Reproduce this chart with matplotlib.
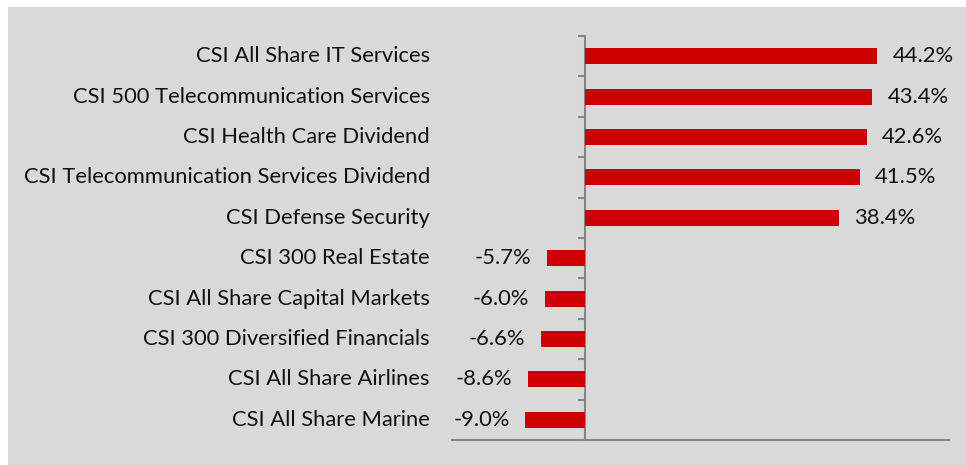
import matplotlib.pyplot as plt
from matplotlib.patches import Rectangle
import matplotlib.transforms as mtransforms

# Data (top to bottom as shown)
categories = [
    'CSI All Share IT Services',
    'CSI 500 Telecommunication Services',
    'CSI Health Care Dividend',
    'CSI Telecommunication Services Dividend',
    'CSI Defense Security',
    'CSI 300 Real Estate',
    'CSI All Share Capital Markets',
    'CSI 300 Diversified Financials',
    'CSI All Share Airlines',
    'CSI All Share Marine',
]
returns = [44.2, 43.4, 42.6, 41.5, 38.4, -5.7, -6.0, -6.6, -8.6, -9.0]

plt.rcParams['font.family'] = ['Lato', 'DejaVu Sans']

fig = plt.figure(figsize=(9.66, 4.65), dpi=100)
fig.patch.set_facecolor('white')
# gray chart panel
fig.patches.append(Rectangle((8 / 966, 0), 1.1, 1 - 7 / 465, transform=fig.transFigure,
                             facecolor='#d9d9d9', edgecolor='none', zorder=-10))

ax = fig.add_axes([452 / 966, 1 - 440 / 465, (949 - 452) / 966, (440 - 36) / 465])
ax.patch.set_alpha(0)

n = len(categories)
ypos = list(range(n - 1, -1, -1))
ax.barh(ypos, returns, height=0.4, color='#cc0000', edgecolor='none', zorder=3)

ax.set_xlim(-20, 55)
ax.set_ylim(-0.5, n - 0.5)

# spines: vertical axis at zero, horizontal axis at bottom
axis_color = '#868686'
for s in ['top', 'right']:
    ax.spines[s].set_visible(False)
ax.spines['left'].set_position(('data', 0))
ax.spines['left'].set_color(axis_color)
ax.spines['left'].set_linewidth(1.5)
ax.spines['bottom'].set_color(axis_color)
ax.spines['bottom'].set_linewidth(1.5)
ax.set_xticks([])
ax.set_yticks([i - 0.5 for i in range(n + 1)])
ax.set_yticklabels([])
ax.tick_params(axis='y', direction='out', length=5, width=1.5, color=axis_color)

# category labels, right aligned left of plot area
trans = mtransforms.blended_transform_factory(ax.transAxes, ax.transData)
for y, name in zip(ypos, categories):
    ax.text(-22 / 497, y, name, transform=trans, ha='right', va='center',
            fontsize=15.8, color='#111111')

# value labels
for y, v in zip(ypos, returns):
    if v >= 0:
        ax.annotate(f'{v:.1f}%', (v, y), xytext=(11, 0), textcoords='offset points',
                    ha='left', va='center', fontsize=15.8, color='#111111')
    else:
        ax.annotate(f'{v:.1f}%', (v, y), xytext=(-11, 0), textcoords='offset points',
                    ha='right', va='center', fontsize=15.8, color='#111111')

fig.savefig('out.png', dpi=100, facecolor=fig.get_facecolor())
